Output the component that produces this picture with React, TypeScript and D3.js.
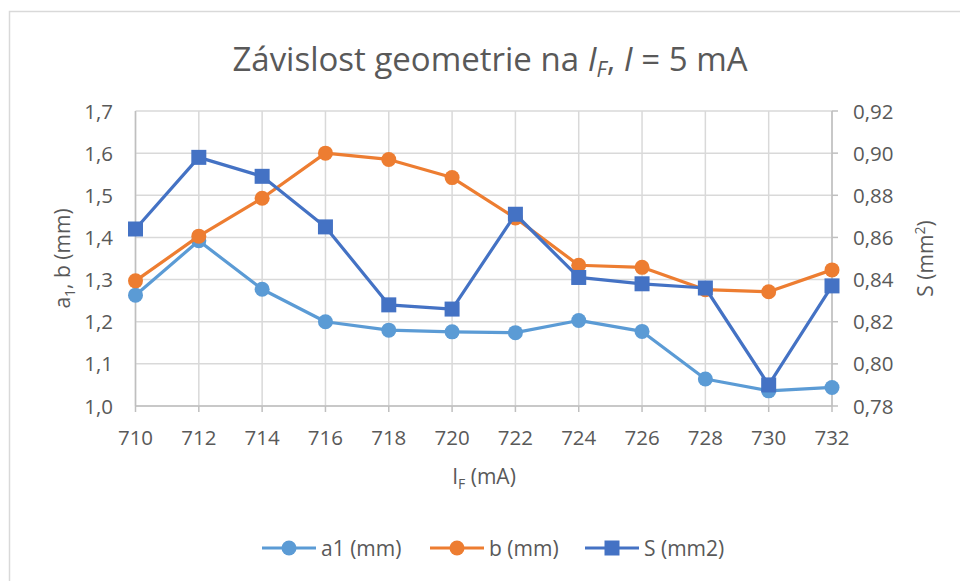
import React from "react";
import * as d3 from "d3";

const currents = [710, 712, 714, 716, 718, 720, 722, 724, 726, 728, 730, 732];
const a1Values = [1.263, 1.392, 1.277, 1.2, 1.18, 1.176, 1.174, 1.203, 1.177, 1.064, 1.036, 1.044];
const bValues = [1.297, 1.403, 1.493, 1.6, 1.585, 1.542, 1.446, 1.334, 1.329, 1.276, 1.271, 1.323];
const sValues = [0.864, 0.898, 0.889, 0.865, 0.828, 0.826, 0.871, 0.841, 0.838, 0.836, 0.79, 0.837];
const leftTicks = [1.0, 1.1, 1.2, 1.3, 1.4, 1.5, 1.6, 1.7];
const rightTicks = [0.78, 0.8, 0.82, 0.84, 0.86, 0.88, 0.9, 0.92];

const C_A1 = "#5B9BD5";
const C_B = "#ED7D31";
const C_S = "#4472C4";
const TXT = "#595959";
const GRID = "#d9d9d9";
const FONT = "'Open Sans', sans-serif";

export default function App() {
  const left = 135.5, right = 832, top = 111, bottom = 406;
  const x = d3.scaleLinear().domain([710, 732]).range([left, right]);
  const yL = d3.scaleLinear().domain([1.0, 1.7]).range([bottom, top]);
  const yR = d3.scaleLinear().domain([0.78, 0.92]).range([bottom, top]);
  const fmtL = (v: number) => d3.format(".1f")(v).replace(".", ",");
  const fmtR = (v: number) => d3.format(".2f")(v).replace(".", ",");

  const lineL = d3.line<number>().x((_, i) => x(currents[i])).y((d) => yL(d));
  const lineR = d3.line<number>().x((_, i) => x(currents[i])).y((d) => yR(d));

  const legendItems = [
    { name: "a1 (mm)", color: C_A1, shape: "circle", x0: 262 },
    { name: "b (mm)", color: C_B, shape: "circle", x0: 430 },
    { name: "S (mm2)", color: C_S, shape: "square", x0: 585 },
  ];
  const TS = 20.5;
  const LS = 21;

  return (
    <svg
      width={960}
      height={581}
      style={{ position: "absolute", left: 0, top: 0, background: "#fff" }}
      fontFamily={FONT}
    >
      <rect x={9.5} y={11.5} width={1000} height={1000} fill="#fff" stroke="#d9d9d9" strokeWidth={1.5} />
      {/* title */}
      <text x={490} y={71} textAnchor="middle" fontSize={33} fill={TXT}>
        Závislost geometrie na <tspan fontStyle="italic">I</tspan>
        <tspan fontStyle="italic" fontSize={21} dy={6}>F</tspan>
        <tspan dy={-6}>, </tspan>
        <tspan fontStyle="italic">I</tspan> = 5 mA
      </text>
      {/* gridlines */}
      {leftTicks.map((t) => (
        <line key={"h" + t} x1={left} x2={right} y1={yL(t)} y2={yL(t)} stroke={GRID} strokeWidth={1.5} />
      ))}
      {currents.map((c) => (
        <line key={"v" + c} x1={x(c)} x2={x(c)} y1={top} y2={bottom} stroke={GRID} strokeWidth={1.5} />
      ))}
      {/* axes */}
      <line x1={left} x2={left} y1={top} y2={bottom} stroke="#bfbfbf" strokeWidth={1.5} />
      <line x1={right} x2={right} y1={top} y2={bottom} stroke="#bfbfbf" strokeWidth={1.5} />
      <line x1={left} x2={right} y1={bottom} y2={bottom} stroke="#bfbfbf" strokeWidth={1.5} />
      {currents.map((c) => (
        <line key={"xt" + c} x1={x(c)} x2={x(c)} y1={bottom} y2={bottom + 6} stroke="#bfbfbf" strokeWidth={1.5} />
      ))}
      {rightTicks.map((t) => (
        <line key={"rt" + t} x1={right} x2={right + 6} y1={yR(t)} y2={yR(t)} stroke="#bfbfbf" strokeWidth={1.5} />
      ))}
      {/* tick labels */}
      {leftTicks.map((t) => (
        <text key={"lt" + t} x={113} y={yL(t) + 7.5} textAnchor="end" fontSize={TS} fill={TXT}>
          {fmtL(t)}
        </text>
      ))}
      {rightTicks.map((t) => (
        <text key={"rl" + t} x={853} y={yR(t) + 7.5} textAnchor="start" fontSize={TS} fill={TXT}>
          {fmtR(t)}
        </text>
      ))}
      {currents.map((c) => (
        <text key={"xl" + c} x={x(c)} y={445} textAnchor="middle" fontSize={TS} fill={TXT}>
          {c}
        </text>
      ))}
      {/* axis titles */}
      <text transform={`translate(70,${(top + bottom) / 2}) rotate(-90)`} textAnchor="middle" fontSize={LS} fill={TXT}>
        a<tspan fontSize={14} dy={5}>1</tspan>
        <tspan dy={-5}>, b (mm)</tspan>
      </text>
      <text transform={`translate(933,${(top + bottom) / 2}) rotate(-90)`} textAnchor="middle" fontSize={LS} fill={TXT}>
        S (mm<tspan fontSize={14} dy={-8}>2</tspan>
        <tspan dy={8}>)</tspan>
      </text>
      <text x={484} y={484} textAnchor="middle" fontSize={LS} fill={TXT}>
        I<tspan fontSize={14} dy={5}>F</tspan>
        <tspan dy={-5}> (mA)</tspan>
      </text>
      {/* series */}
      <path d={lineL(a1Values) || ""} fill="none" stroke={C_A1} strokeWidth={3.2} strokeLinejoin="round" />
      {a1Values.map((v, i) => (
        <circle key={"a" + i} cx={x(currents[i])} cy={yL(v)} r={7.5} fill={C_A1} />
      ))}
      <path d={lineL(bValues) || ""} fill="none" stroke={C_B} strokeWidth={3.2} strokeLinejoin="round" />
      {bValues.map((v, i) => (
        <circle key={"b" + i} cx={x(currents[i])} cy={yL(v)} r={7.5} fill={C_B} />
      ))}
      <path d={lineR(sValues) || ""} fill="none" stroke={C_S} strokeWidth={3.2} strokeLinejoin="round" />
      {sValues.map((v, i) => (
        <rect key={"s" + i} x={x(currents[i]) - 7.5} y={yR(v) - 7.5} width={15} height={15} fill={C_S} />
      ))}
      {/* legend */}
      {legendItems.map((it) => (
        <g key={it.name}>
          <line x1={it.x0} x2={it.x0 + 54} y1={548} y2={548} stroke={it.color} strokeWidth={3.2} />
          {it.shape === "circle" ? (
            <circle cx={it.x0 + 27} cy={548} r={7.5} fill={it.color} />
          ) : (
            <rect x={it.x0 + 19.5} y={540.5} width={15} height={15} fill={it.color} />
          )}
          <text x={it.x0 + 59} y={555.5} fontSize={LS} fill={TXT}>
            {it.name}
          </text>
        </g>
      ))}
    </svg>
  );
}
